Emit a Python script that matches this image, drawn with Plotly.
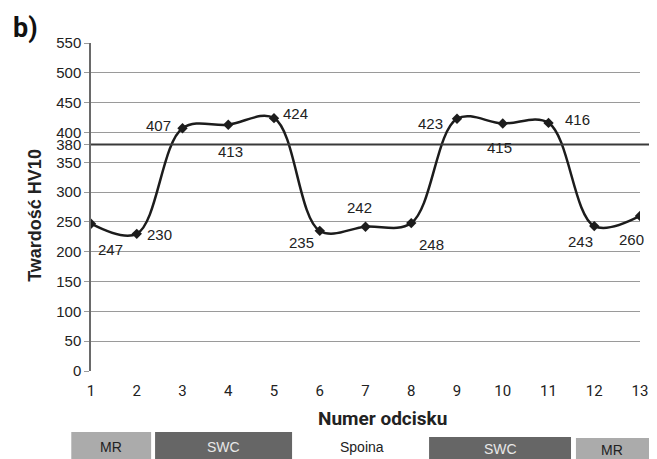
import plotly.graph_objects as go

# ---- data ----
indentations = [1, 2, 3, 4, 5, 6, 7, 8, 9, 10, 11, 12, 13]
hardness = [247, 230, 407, 413, 424, 235, 242, 248, 423, 415, 416, 243, 260]
threshold = 380
y_ticks = [0, 50, 100, 150, 200, 250, 300, 350, 400, 450, 500, 550, 380]
zone_labels = ["MR", "SWC", "Spoina", "SWC", "MR"]

# label offsets in pixels (dx right, dy down) relative to each point
label_offsets = [(19, 26), (23, 1), (-24, -3), (2, 27), (21, -5), (-18, 12), (-6, -19),
                 (20, 21), (-27, 5), (-3, 24), (29, -3), (-14, 15), (-9, 24)]

# page has an 8px body margin; figure sized to fill the 657x459 window
REF_W, REF_H = 657, 459
OFF = 8
W, H = REF_W - OFF, REF_H - OFF
X0_REF, X1_REF, Y_TOP_REF, Y_BOT_REF = 91, 648, 43, 371
L, T = X0_REF - OFF, Y_TOP_REF - OFF
R = W - (X1_REF - OFF)
B = H - (Y_BOT_REF - OFF)
PW, PH = X1_REF - X0_REF, Y_BOT_REF - Y_TOP_REF


def px(xp):
    return (xp - X0_REF) / PW


def py(yp):
    return (Y_BOT_REF - yp) / PH


fig = go.Figure()
fig.add_trace(go.Scatter(
    x=indentations, y=hardness, mode="lines+markers",
    line=dict(color="#1c1c1c", width=2.5, shape="spline", smoothing=1.0),
    marker=dict(symbol="diamond", size=8, color="#1c1c1c"),
    showlegend=False, hoverinfo="x+y",
))

annotations = []
for xv, yv, (dx, dy) in zip(indentations, hardness, label_offsets):
    annotations.append(dict(x=xv, y=yv, xref="x", yref="y", text=str(yv), showarrow=False,
                            xanchor="center", yanchor="middle",
                            xshift=dx, yshift=-dy,
                            font=dict(family="Liberation Sans", size=15, color="#222")))

# titles
annotations.append(dict(x=px(25), y=py(28), xref="paper", yref="paper", text="<b>b)</b>",
                        xanchor="center", yanchor="middle",
                        showarrow=False, font=dict(family="Roboto", size=27, color="#111")))
annotations.append(dict(x=px(387), y=py(418), xref="paper", yref="paper", text="<b>Numer odcisku</b>",
                        xanchor="center", yanchor="middle",
                        showarrow=False, font=dict(family="Roboto", size=19, color="#222")))
annotations.append(dict(x=px(34), y=py(215), xref="paper", yref="paper", text="<b>Twardość HV10</b>",
                        xanchor="center", yanchor="middle",
                        textangle=-90, showarrow=False,
                        font=dict(family="Liberation Sans", size=18, color="#222")))

# zone boxes below the axis
zone_boxes = [(71, 152, 432, "#ababab", "#222"), (156, 295, 432, "#666666", "#e8e8e8"),
              (300, 432, 432, None, "#222"), (434, 578, 437, "#666666", "#e8e8e8"),
              (583, 657, 438, "#ababab", "#222")]
shapes = []
for lab, (x0, x1, y0, fill, tc) in zip(zone_labels, zone_boxes):
    if fill:
        shapes.append(dict(type="rect", xref="paper", yref="paper", x0=px(x0), x1=px(x1 + 2 if x1 >= REF_W else x1),
                           y0=py(y0), y1=py(REF_H + 2), fillcolor=fill, line=dict(width=0), layer="above"))
    annotations.append(dict(x=px((x0 + x1) / 2), y=py((y0 + REF_H) / 2 + 1), xref="paper", yref="paper",
                            xanchor="center", yanchor="middle",
                            text=lab, showarrow=False,
                            font=dict(family="Liberation Sans", size=14, color=tc)))

shapes.append(dict(type="line", xref="paper", yref="y", x0=0, x1=px(REF_W + 2), y0=threshold, y1=threshold,
                   line=dict(color="#3a3a3a", width=2), layer="above"))

fig.update_layout(
    width=W, height=H,
    margin=dict(l=L, r=R, t=T, b=B),
    paper_bgcolor="white", plot_bgcolor="white",
    annotations=annotations, shapes=shapes,
    xaxis=dict(range=[1, 13], tickvals=indentations, showgrid=False, zeroline=False,
               showline=False, ticks="outside", ticklen=6, tickcolor="rgba(0,0,0,0)",
               tickfont=dict(family="Roboto", size=15, color="#222")),
    yaxis=dict(range=[0, 550], tickvals=y_ticks, ticktext=[str(v) for v in y_ticks],
               showgrid=True, gridcolor="#9a9a9a", gridwidth=1, zeroline=False,
               showline=True, linecolor="#6a6a6a", linewidth=1.5,
               ticks="outside", ticklen=5, tickcolor="#9a9a9a",
               tickfont=dict(family="Liberation Sans", size=15, color="#222")),
)

fig.write_html("out.html")
